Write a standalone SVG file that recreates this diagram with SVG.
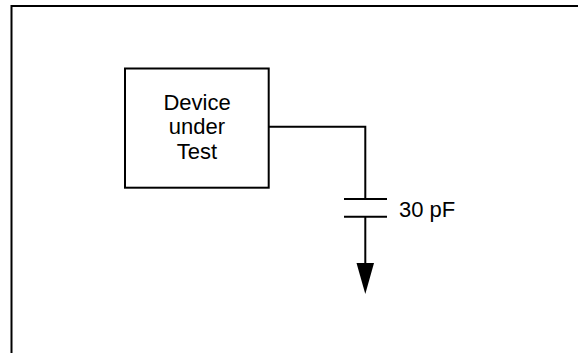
<svg xmlns="http://www.w3.org/2000/svg" width="578" height="353" viewBox="0 0 578 353">
<style>
.ln{fill:none;stroke:#000;stroke-width:2}
.t{font-family:"Liberation Sans",Arial,sans-serif;font-size:22px;fill:#000}
</style>
<rect width="578" height="353" fill="#fff"/>
<g id="frame"><path class="ln" d="M11.5,353 V6 H578"/></g>
<g id="dut">
<rect class="ln" x="125" y="68.5" width="143.7" height="119.2"/>
<text class="t" x="197" y="109.5" text-anchor="middle">Device</text>
<text class="t" x="197" y="134" text-anchor="middle">under</text>
<text class="t" x="197" y="158.5" text-anchor="middle">Test</text>
</g>
<g id="capacitor">
<path class="ln" d="M344,199 H387 M344,216.7 H387"/>
<text class="t" x="399" y="216.7">30 pF</text>
</g>
<g id="ground">
<polygon points="356.5,263 374,263 365.3,294" fill="#000"/>
</g>
<g id="connectors">
<path class="ln" d="M268.7,126.7 H365.3 V199"/>
<path class="ln" d="M365.3,216.7 V264"/>
</g>
</svg>
